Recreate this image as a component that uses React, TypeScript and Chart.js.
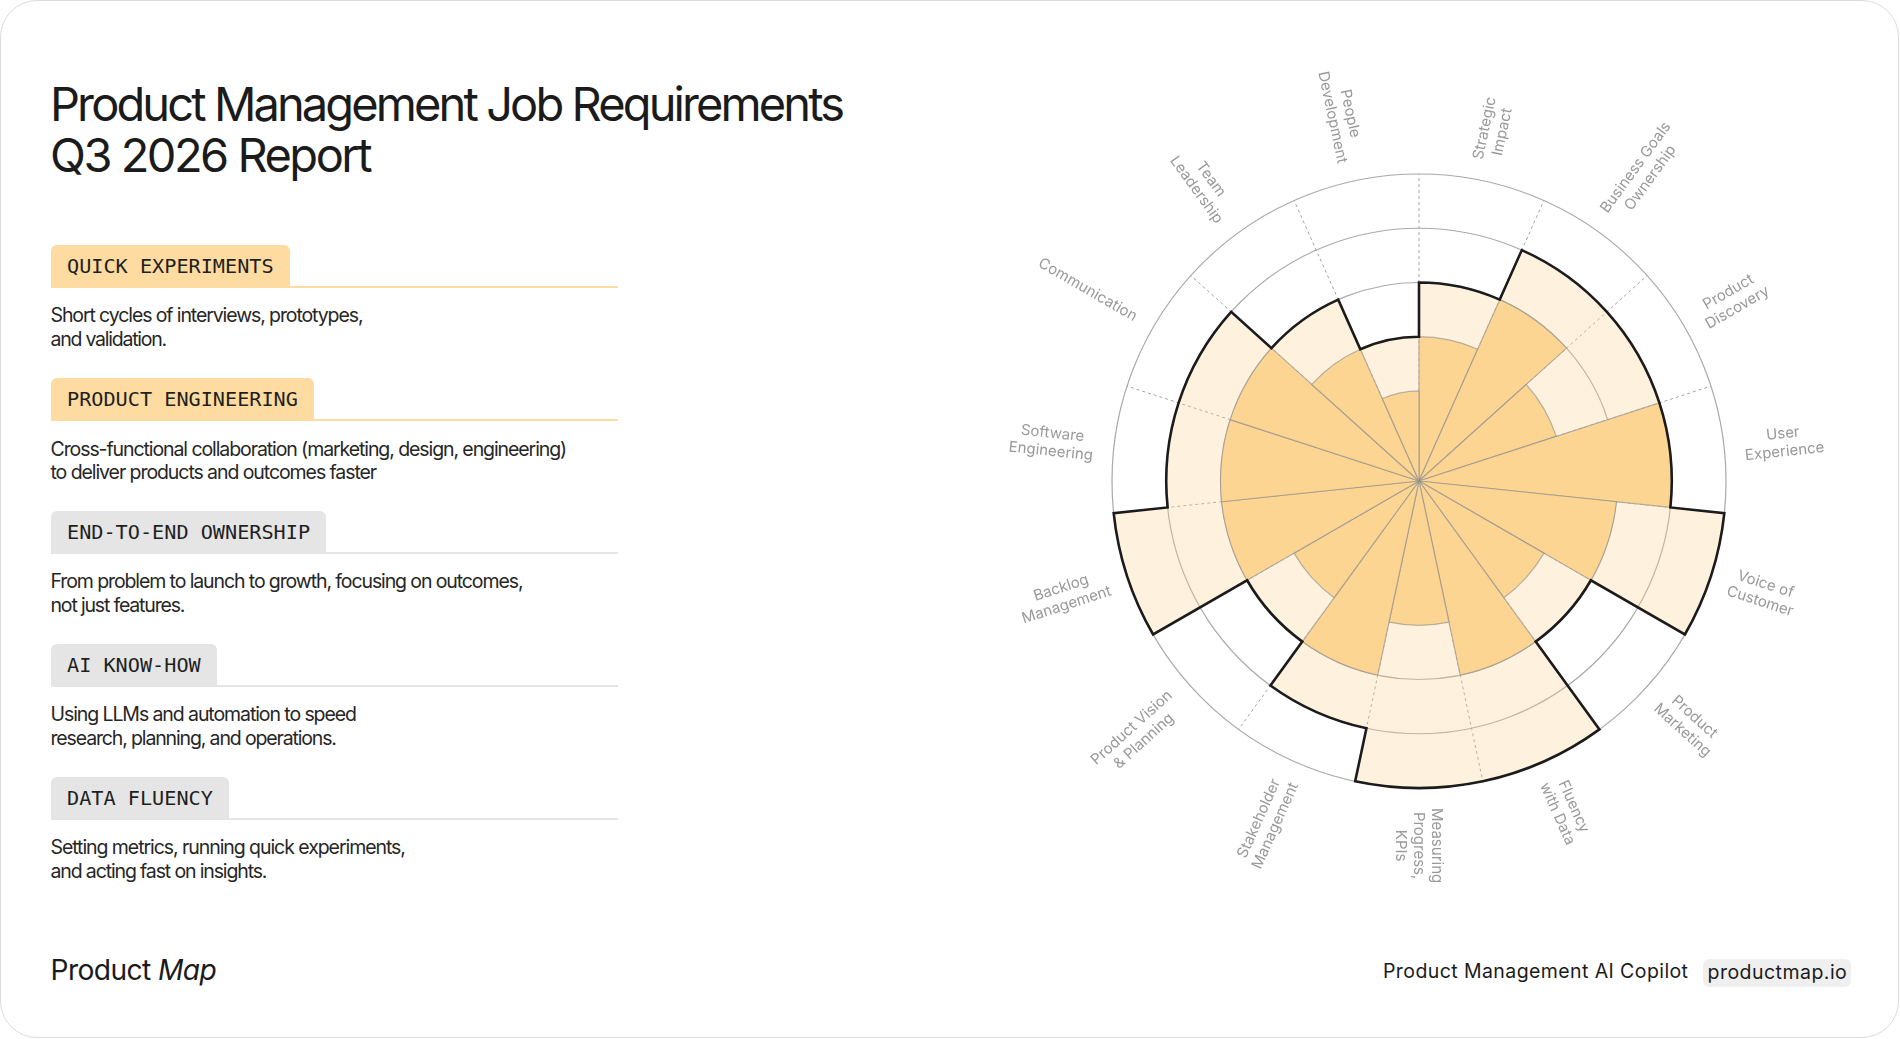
import React, { useEffect, useLayoutEffect, useRef } from "react";
import { Chart, registerables } from "chart.js";

Chart.register(...registerables);

// ---------- data ----------
const CATEGORIES: string[][] = [
  ["Strategic", "Impact"],
  ["Business Goals", "Ownership"],
  ["Product", "Discovery"],
  ["User", "Experience"],
  ["Voice of", "Customer"],
  ["Product", "Marketing"],
  ["Fluency", "with Data"],
  ["Measuring", "Progress,", "KPIs"],
  ["Stakeholder", "Management"],
  ["Product Vision", "& Planning"],
  ["Backlog", "Management"],
  ["Software", "Engineering"],
  ["Communication"],
  ["Team", "Leadership"],
  ["People", "Development"],
];

// core (darker) requirement level per category
const CORE_LEVELS = [2, 3, 2, 4, 3, 2, 3, 2, 3, 2, 3, 3, 3, 2, 1];
// extended (lighter, outlined) requirement level per category
const OUTER_LEVELS = [3, 4, 4, 4, 5, 3, 5, 5, 4, 3, 5, 4, 4, 3, 2];
// visible grid rings
const GRID_LEVELS = [3, 4, 5];
const SCALE_MIN = -0.66;
const SCALE_MAX = 5;

const TAGS = [
  "QUICK EXPERIMENTS",
  "PRODUCT ENGINEERING",
  "END-TO-END OWNERSHIP",
  "AI KNOW-HOW",
  "DATA FLUENCY",
];
const TAG_HIGHLIGHT = [true, true, false, false, false];
const DESCRIPTIONS: string[][] = [
  ["Short cycles of interviews, prototypes,", "and validation."],
  [
    "Cross-functional collaboration (marketing, design, engineering)",
    "to deliver products and outcomes faster",
  ],
  ["From problem to launch to growth, focusing on outcomes,", "not just features."],
  ["Using LLMs and automation to speed", "research, planning, and operations."],
  ["Setting metrics, running quick experiments,", "and acting fast on insights."],
];

const TITLE_LINES = ["Product Management Job Requirements", "Q3 2026 Report"];

// ---------- layout (styles only) ----------
const SECTION_TOPS = [243.5, 377, 509.5, 642.5, 775.5];
const DESC_WIDTHS = [
  [313, 116.7],
  [516.7, 326.7],
  [473, 135],
  [306.5, 286.5],
  [355.4, 217],
];
const TITLE_WIDTHS = [795, 322.6];

function Fit({ w, text, style }: { w: number; text: string; style?: React.CSSProperties }) {
  const ref = useRef<HTMLSpanElement>(null);
  useLayoutEffect(() => {
    const el = ref.current;
    if (!el) return;
    el.style.letterSpacing = "0px";
    const natural = el.getBoundingClientRect().width;
    const n = Math.max(1, text.length - 1);
    el.style.letterSpacing = (w - natural) / n + "px";
  }, [w, text]);
  return (
    <span ref={ref} style={{ display: "inline-block", whiteSpace: "nowrap", ...style }}>
      {text}
    </span>
  );
}

function PolarChart() {
  const ref = useRef<HTMLCanvasElement>(null);
  useEffect(() => {
    const canvas = ref.current;
    if (!canvas) return;

    const outlinePlugin = {
      id: "outline",
      afterDatasetsDraw(chart: any) {
        const meta = chart.getDatasetMeta(1);
        const ctx = chart.ctx;
        ctx.save();
        ctx.beginPath();
        meta.data.forEach((arc: any) => {
          const p = arc.getProps(["x", "y", "startAngle", "endAngle", "outerRadius"]);
          ctx.arc(p.x, p.y, p.outerRadius, p.startAngle, p.endAngle);
        });
        ctx.closePath();
        ctx.lineWidth = 2.6;
        ctx.strokeStyle = "#1b1b1b";
        ctx.lineJoin = "miter";
        ctx.stroke();
        ctx.restore();
      },
    };

    const labelPlugin = {
      id: "radialLabels",
      afterDraw(chart: any) {
        const scale = chart.scales.r;
        const ctx = chart.ctx;
        const n = CATEGORIES.length;
        const r0 = scale.drawingArea + 20;
        ctx.save();
        ctx.font = "15px Inter, sans-serif";
        ctx.fillStyle = "#999999";
        ctx.textAlign = "center";
        ctx.textBaseline = "middle";
        CATEGORIES.forEach((lines, i) => {
          const mid = scale.getIndexAngle(i) + Math.PI / n;
          const a = mid - Math.PI / 2;
          const right = mid <= Math.PI + 1e-3;
          const maxW = Math.max(...lines.map((l) => ctx.measureText(l).width));
          ctx.save();
          ctx.translate(scale.xCenter, scale.yCenter);
          ctx.rotate(right ? a : a + Math.PI);
          const cx = right ? r0 + maxW / 2 : -(r0 + maxW / 2);
          const lh = 18;
          lines.forEach((l, k) => {
            ctx.fillText(l, cx, (k - (lines.length - 1) / 2) * lh);
          });
          ctx.restore();
        });
        ctx.restore();
      },
    };

    const chart = new Chart(canvas, {
      type: "polarArea",
      data: {
        labels: CATEGORIES,
        datasets: [
          {
            label: "Core",
            data: CORE_LEVELS,
            backgroundColor: "#FDD593",
            borderColor: "rgba(140,140,140,0.62)",
            borderWidth: 1.2,
          },
          {
            label: "Extended",
            data: OUTER_LEVELS,
            backgroundColor: "rgba(252,213,146,0.3)",
            borderWidth: 0,
          },
        ],
      },
      options: {
        responsive: false,
        animation: false,
        layout: { padding: 143 },
        plugins: { legend: { display: false }, tooltip: { enabled: false } },
        scales: {
          r: {
            min: SCALE_MIN,
            max: SCALE_MAX,
            startAngle: 0,
            ticks: { display: false, stepSize: 1 },
            grid: {
              circular: true,
              color: (c: any) =>
                c.tick && GRID_LEVELS.includes(c.tick.value) ? "#a9a9a9" : "rgba(0,0,0,0)",
              lineWidth: 1.2,
            },
            angleLines: {
              display: true,
              color: "#a3a3a3",
              lineWidth: 1,
              borderDash: [3, 3],
            },
            pointLabels: { display: false },
          },
        },
      } as any,
      plugins: [outlinePlugin, labelPlugin],
    });
    return () => chart.destroy();
  }, []);
  return (
    <canvas
      ref={ref}
      width={900}
      height={900}
      style={{ position: "absolute", left: 968, top: 30, width: 900, height: 900 }}
    />
  );
}

export default function App() {
  const ink = "#1b1b1b";
  return (
    <div style={{ position: "fixed", inset: 0, background: "#fff" }}>
      <div
        style={{
          position: "absolute",
          left: 0,
          top: 0,
          width: 1899,
          height: 1038,
          boxSizing: "border-box",
          border: "1.5px solid #dcdcdc",
          borderRadius: 37,
          fontFamily: "Inter, 'Noto Sans', sans-serif",
          color: ink,
          overflow: "hidden",
        }}
      >
        <div
          style={{
            position: "absolute",
            left: 49,
            top: 76.5,
            fontSize: 47,
            lineHeight: "51.4px",
            fontWeight: 400,
          }}
        >
          {TITLE_LINES.map((t, i) => (
            <div key={i}>
              <Fit w={TITLE_WIDTHS[i]} text={t} />
            </div>
          ))}
        </div>

        {TAGS.map((tag, i) => {
          const hl = TAG_HIGHLIGHT[i];
          const bg = hl ? "#FEDBA0" : "#E5E5E5";
          const T = SECTION_TOPS[i];
          return (
            <React.Fragment key={tag}>
              <div
                style={{
                  position: "absolute",
                  left: 50,
                  top: T + 41,
                  width: 567,
                  height: 2,
                  background: bg,
                }}
              />
              <div
                style={{
                  position: "absolute",
                  left: 50,
                  top: T,
                  height: 42,
                  padding: "0 16px",
                  display: "flex",
                  alignItems: "center",
                  background: bg,
                  borderRadius: "6px 6px 0 0",
                  fontFamily: "'DejaVu Sans Mono', monospace",
                  fontSize: 20.2,
                  color: "#1f1f1f",
                  whiteSpace: "nowrap",
                }}
              >
                {tag}
              </div>
              <div
                style={{
                  position: "absolute",
                  left: 49.5,
                  top: T + 59.5,
                  fontSize: 19.5,
                  lineHeight: "23.5px",
                  color: "#262626",
                }}
              >
                {DESCRIPTIONS[i].map((line, k) => (
                  <div key={k}>
                    <Fit w={DESC_WIDTHS[i][k]} text={line} />
                  </div>
                ))}
              </div>
            </React.Fragment>
          );
        })}

        <div
          style={{
            position: "absolute",
            left: 49.5,
            top: 955,
            fontSize: 28.2,
            lineHeight: "28px",
            letterSpacing: "-0.6px",
            whiteSpace: "nowrap",
          }}
        >
          Product <i>Map</i>
        </div>

        <div
          style={{
            position: "absolute",
            left: 1382,
            top: 960.5,
            fontSize: 19.5,
            lineHeight: "19.5px",
            whiteSpace: "nowrap",
          }}
        >
          <Fit w={305} text="Product Management AI Copilot" />
        </div>
        <div
          style={{
            position: "absolute",
            left: 1701.5,
            top: 957.5,
            height: 28.5,
            width: 148.5,
            boxSizing: "border-box",
            paddingLeft: 5,
            background: "#efefef",
            borderRadius: 6,
            fontSize: 19.5,
            lineHeight: "26px",
            whiteSpace: "nowrap",
          }}
        >
          <Fit w={139.3} text="productmap.io" />
        </div>

        <PolarChart />
      </div>
    </div>
  );
}
